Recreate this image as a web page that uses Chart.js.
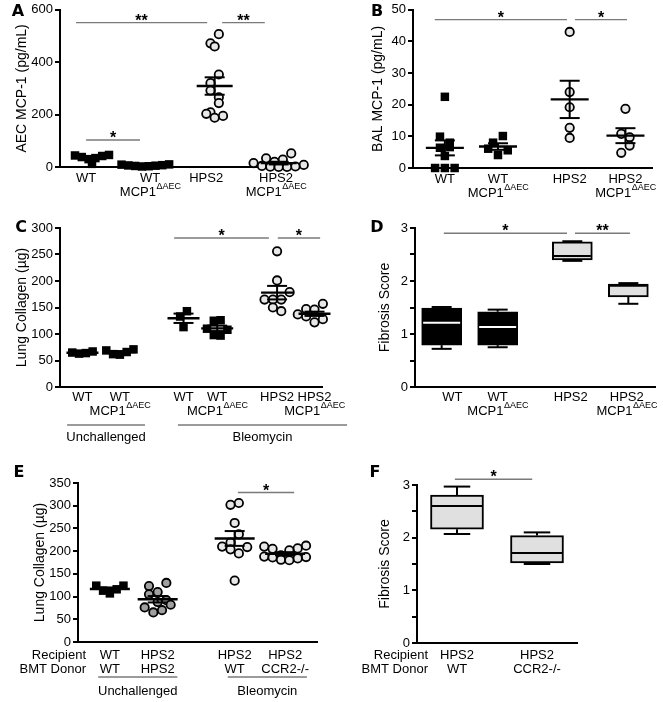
<!DOCTYPE html>
<html><head><meta charset="utf-8">
<script src="https://cdn.jsdelivr.net/npm/chart.js@4.4.1/dist/chart.umd.min.js"></script>
<style>
html,body{margin:0;padding:0;background:#fff;}
#wrap{position:relative;width:663px;height:702px;overflow:hidden;background:#fff;}
canvas{position:absolute;}
.lt{position:absolute;font:bold 16px 'DejaVu Sans',sans-serif;color:#000;transform:translate(-50%,-50%);line-height:1;}
</style></head><body>
<div id="wrap">
<canvas id="cA" width="330" height="200" style="left:0;top:0"></canvas>
<canvas id="cB" width="333" height="200" style="left:330px;top:0"></canvas>
<canvas id="cC" width="352" height="252" style="left:0;top:200px"></canvas>
<canvas id="cD" width="333" height="230" style="left:330px;top:200px"></canvas>
<canvas id="cE" width="340" height="247" style="left:0;top:455px"></canvas>
<canvas id="cF" width="323" height="247" style="left:340px;top:455px"></canvas>
<div class="lt" style="left:18px;top:11px">A</div>
<div class="lt" style="left:377px;top:11px">B</div>
<div class="lt" style="left:21px;top:227px">C</div>
<div class="lt" style="left:377px;top:227px">D</div>
<div class="lt" style="left:19px;top:472px">E</div>
<div class="lt" style="left:375px;top:472px">F</div>
</div>
<script>
const FONT = "'Liberation Sans', Arial, Helvetica, sans-serif";

// ================= DATA =================
// Panel A : AEC MCP-1 (pg/mL)
const aCategories = ['WT', 'WT|MCP1^ΔAEC', 'HPS2', 'HPS2|MCP1^ΔAEC'];
const aWT = [46, 44, 42, 38, 34, 30, 12];
const aWTko = [10, 9, 7, 6, 5, 4, 3, 2];
const aHPS2 = [507, 472, 460, 353, 320, 292, 266, 244, 209, 203, 195, 188];
const aHPS2ko = [52, 33, 28, 20, 15, 8, 4, 2, 1, 0, 0];
const aTicks = [0, 200, 400, 600];

// Panel B : BAL MCP-1 (pg/mL)
const bCategories = ['WT', 'WT|MCP1^ΔAEC', 'HPS2', 'HPS2|MCP1^ΔAEC'];
const bWT = [22.5, 9.9, 8, 6.6, 6.4, 3.8, 0, 0, 0];
const bWTko = [10.1, 8, 6.1, 5.6, 4.1];
const bHPS2 = [43, 24, 19.2, 12.7, 9.5];
const bHPS2ko = [18.7, 10.8, 9.7, 7.1, 4.8];
const bTicks = [0, 10, 20, 30, 40, 50];

// Panel C : Lung Collagen (µg)
const cCategories = ['WT', 'WT|MCP1^ΔAEC', 'WT', 'WT|MCP1^ΔAEC', 'HPS2', 'HPS2|MCP1^ΔAEC'];
const cWTu = [67, 65, 64, 63];
const cWTkou = [71, 69, 66, 62, 61];
const cWTb = [143, 133, 113];
const cWTkob = [126, 125, 110, 108, 98, 97];
const cHPS2b = [256, 201, 179, 165, 165, 165, 150, 143];
const cHPS2kob = [157, 147, 146, 137, 135, 133, 128, 122];
const cTicks = [0, 50, 100, 150, 200, 250, 300];
const cConditions = ['Unchallenged', 'Bleomycin'];

// Panel D : Fibrosis Score  [min, q1, median, q3, max]
const dCategories = ['WT', 'WT|MCP1^ΔAEC', 'HPS2', 'HPS2|MCP1^ΔAEC'];
const dWT = [0.72, 0.79, 1.21, 1.49, 1.51];
const dWTko = [0.75, 0.79, 1.13, 1.42, 1.46];
const dHPS2 = [2.38, 2.40, 2.47, 2.74, 2.75];
const dHPS2ko = [1.57, 1.70, 1.91, 1.94, 1.96];
const dTicks = [0, 0.5, 1, 1.5, 2, 2.5, 3];

// Panel E : Lung Collagen (µg), BMT
const eRecipient = ['WT', 'HPS2', 'HPS2', 'HPS2'];
const eDonor = ['WT', 'HPS2', 'WT', 'CCR2-/-'];
const eWTWT = [124, 124, 116, 113, 107];
const eHPS2HPS2 = [130, 123, 110, 105, 92, 88, 82, 76, 70, 65];
const eHPS2WT = [306, 302, 262, 237, 219, 210, 209, 204, 195, 135];
const eHPS2CCR2 = [212, 210, 206, 205, 202, 191, 188, 187, 186, 184, 181, 180];
const eTicks = [0, 50, 100, 150, 200, 250, 300, 350];
const eConditions = ['Unchallenged', 'Bleomycin'];

// Panel F : Fibrosis Score  [min, q1, median, q3, max]
const fRecipient = ['HPS2', 'HPS2'];
const fDonor = ['WT', 'CCR2-/-'];
const fWT = [2.07, 2.16, 2.60, 2.81, 2.97];
const fCCR2 = [1.50, 1.52, 1.71, 2.04, 2.10];
const fTicks = [0, 0.5, 1, 1.5, 2, 2.5, 3];

// ================= STYLES =================
const SQ = {pointStyle: 'rect', pointRadius: 6, backgroundColor: '#000', borderColor: '#000', borderWidth: 0, d: 8.5, sp: 0.8};
const SQW = {pointStyle: 'rect', pointRadius: 6, backgroundColor: '#000', borderColor: '#000', borderWidth: 0, d: 8.5, sp: 1.15};
const OP = {pointStyle: 'circle', pointRadius: 4.2, backgroundColor: '#e8e8e8', borderColor: '#000', borderWidth: 1.8, d: 10.2, sp: 0.82};
const GR = {pointStyle: 'circle', pointRadius: 4.2, backgroundColor: '#a0a0a0', borderColor: '#000', borderWidth: 1.8, d: 10.2, sp: 0.85};

function drawLabel(ctx, text, x, y) {
  const parts = text.split('^');
  const base = parts[0], sup = parts[1];
  ctx.font = '13px ' + FONT;
  const wb = ctx.measureText(base).width;
  let ws = 0;
  if (sup) { ctx.font = '9px ' + FONT; ws = ctx.measureText(sup).width; }
  const x0 = x - (wb + ws) / 2;
  ctx.textAlign = 'left'; ctx.textBaseline = 'middle'; ctx.fillStyle = '#000';
  ctx.font = '13px ' + FONT; ctx.fillText(base, x0, y);
  if (sup) { ctx.font = '9px ' + FONT; ctx.fillText(sup, x0 + wb + 0.5, y - 5); }
}
function seg(ctx, x1, y1, x2, y2) { ctx.beginPath(); ctx.moveTo(x1, y1); ctx.lineTo(x2, y2); ctx.stroke(); }

function makeDecor(p) {
  return {
    id: 'decor_' + p.id,
    afterDraw(chart) {
      const ctx = chart.ctx, xs = chart.scales.x, ys = chart.scales.y, ca = chart.chartArea;
      ctx.save();
      ctx.lineCap = 'butt';
      // mean ± SEM
      if (p.series && p.meanW) {
        p.series.forEach((s, k) => {
          const n = s.v.length;
          const m = s.v.reduce((a, b) => a + b, 0) / n;
          const sd = Math.sqrt(s.v.reduce((a, b) => a + (b - m) * (b - m), 0) / (n - 1));
          const se = sd / Math.sqrt(n);
          const cx = xs.getPixelForValue(p.xs[k]);
          const ym = ys.getPixelForValue(m), yh = ys.getPixelForValue(m + se), yl = ys.getPixelForValue(m - se);
          ctx.strokeStyle = '#000';
          ctx.lineWidth = 2.4; seg(ctx, cx - p.meanW / 2, ym, cx + p.meanW / 2, ym);
          ctx.lineWidth = 2; seg(ctx, cx, yh, cx, yl);
          seg(ctx, cx - p.semW / 2, yh, cx + p.semW / 2, yh);
          seg(ctx, cx - p.semW / 2, yl, cx + p.semW / 2, yl);
        });
      }
      // box whiskers and medians
      if (p.boxes) {
        p.boxes.forEach((b, k) => {
          const cx = xs.getPixelForValue(p.xs[k]);
          const w = p.boxW;
          const y0 = ys.getPixelForValue(b[0]), y1 = ys.getPixelForValue(b[1]), y2 = ys.getPixelForValue(b[2]),
                y3 = ys.getPixelForValue(b[3]), y4 = ys.getPixelForValue(b[4]);
          ctx.strokeStyle = '#000'; ctx.lineWidth = 2;
          seg(ctx, cx, y3, cx, y4); seg(ctx, cx - w / 4, y4, cx + w / 4, y4);
          seg(ctx, cx, y1, cx, y0); seg(ctx, cx - w / 4, y0, cx + w / 4, y0);
          ctx.strokeStyle = p.medianColors[k];
          seg(ctx, cx - w / 2 + 1.5, y2, cx + w / 2 - 1.5, y2);
        });
      }
      // significance bars
      (p.sigs || []).forEach(s => {
        const x1 = xs.getPixelForValue(s.x1), x2 = xs.getPixelForValue(s.x2), y = ys.getPixelForValue(s.y);
        ctx.strokeStyle = '#7a7a7a'; ctx.lineWidth = 1.4; seg(ctx, x1, y, x2, y);
        ctx.fillStyle = '#000'; ctx.font = 'bold 16px ' + FONT; ctx.textAlign = 'center'; ctx.textBaseline = 'alphabetic';
        ctx.fillText(s.t, (x1 + x2) / 2, y + 3);
      });
      // category labels
      const lx = p.labelXs || p.xs;
      p.labels.forEach((lab, k) => {
        const cx = xs.getPixelForValue(lx[k]);
        lab.split('|').forEach((line, r) => drawLabel(ctx, line, cx, ca.bottom + p.rows[r]));
      });
      // row headers
      if (p.rowHead) {
        ctx.font = '13px ' + FONT; ctx.textAlign = 'right'; ctx.textBaseline = 'middle'; ctx.fillStyle = '#000';
        p.rowHead.t.forEach((t, r) => ctx.fillText(t, p.rowHead.x, ca.bottom + p.rows[r]));
      }
      // condition brackets
      (p.brackets || []).forEach(b => {
        const x1 = xs.getPixelForValue(b.x1), x2 = xs.getPixelForValue(b.x2);
        ctx.strokeStyle = '#7a7a7a'; ctx.lineWidth = 1.4; seg(ctx, x1, ca.bottom + p.brkLine, x2, ca.bottom + p.brkLine);
        ctx.fillStyle = '#000'; ctx.font = '13px ' + FONT; ctx.textAlign = 'center'; ctx.textBaseline = 'middle';
        ctx.fillText(b.t, (x1 + x2) / 2, ca.bottom + p.brkText);
      });
      ctx.restore();
    }
  };
}

// Column-scatter layout: points are binned into rows (by pixel height); in each row the
// lowest value sits in the middle and higher ones alternate outwards (U-shaped rows).
function swarm(chart, p) {
  const xs = chart.scales.x, ys = chart.scales.y;
  const ppu = xs.getPixelForValue(1) - xs.getPixelForValue(0);
  p.series.forEach((s, k) => {
    const binH = s.st.d * 0.95, sp = s.st.d * s.st.sp;
    const idx = s.v.map((_, i) => i).sort((a, b) => s.v[b] - s.v[a]);
    const bins = []; let cur = null;
    idx.forEach(i => {
      const py = ys.getPixelForValue(s.v[i]);
      if (!cur || py - cur.y0 > binH) { cur = {y0: py, m: []}; bins.push(cur); }
      cur.m.push(i);
    });
    const off = [];
    let flip = 1;
    bins.forEach(b => {
      const n = b.m.length;
      const slots = [];
      for (let j = 0; j < n; j++) slots.push((j - (n - 1) / 2) * sp);
      const order = slots.map((_, j) => j).sort((a, c) => Math.abs(slots[a]) - Math.abs(slots[c]) || (slots[a] - slots[c]) * flip);
      const members = b.m.slice().sort((a, c) => s.v[a] - s.v[c]); // lowest first -> centre
      members.forEach((i, j) => { off[i] = slots[order[j]]; });
      if (n === 1) off[b.m[0]] = 0;
      flip = -flip;
    });
    chart.data.datasets[k].data = s.v.map((v, i) => ({x: p.xs[k] + off[i] / ppu, y: v}));
  });
  chart.update('none');
}

function makePanel(p) {
  const datasets = [];
  if (p.series) {
    p.series.forEach((s, k) => datasets.push({
      type: 'scatter', data: s.v.map(v => ({x: p.xs[k], y: v})),
      pointStyle: s.st.pointStyle, pointRadius: s.st.pointRadius, pointHoverRadius: s.st.pointRadius,
      backgroundColor: s.st.backgroundColor, borderColor: s.st.borderColor, borderWidth: s.st.borderWidth,
      showLine: false, clip: false
    }));
  }
  if (p.boxes) {
    datasets.push({
      type: 'bar', data: p.boxes.map((b, k) => ({x: p.xs[k], y: [b[1], b[3]]})),
      backgroundColor: p.boxFill, borderColor: '#000', borderWidth: 2, borderSkipped: false,
      barThickness: p.boxW, grouped: false
    });
  }
  const chart = new Chart(document.getElementById(p.id), {
    type: p.boxes ? 'bar' : 'scatter',
    data: {datasets},
    options: {
      responsive: false, animation: false, events: [],
      layout: {padding: {top: p.padTop, right: p.padRight, left: 0, bottom: 0}},
      plugins: {legend: {display: false}, tooltip: {enabled: false}},
      scales: {
        x: {
          type: 'linear', min: p.xMin, max: p.xMax, offset: false,
          ticks: {display: false}, grid: {display: false},
          border: {display: true, color: '#000', width: 2},
          afterFit: s => { s.height = p.xH; }
        },
        y: {
          type: 'linear', min: p.yMin, max: p.yMax,
          afterBuildTicks: s => { s.ticks = p.ticks.map(v => ({value: v})); },
          ticks: {autoSkip: false, color: '#000', font: {family: FONT, size: 13}, padding: 2,
                  callback: v => (p.minor && !Number.isInteger(v)) ? '' : String(v)},
          grid: {drawOnChartArea: false, drawTicks: true, tickLength: 5, color: '#000', lineWidth: 2},
          border: {display: true, color: '#000', width: 2},
          title: {display: true, text: p.yTitle, color: '#000', font: {family: FONT, size: 14}, padding: {top: p.titlePad, bottom: 0}},
          afterFit: s => { s.width = p.yW; }
        }
      }
    },
    plugins: [makeDecor(p)]
  });
  if (p.series) swarm(chart, p);
  return chart;
}

// ================= PANELS =================
makePanel({
  id: 'cA', xMin: 0.4, xMax: 4.9, xs: [1, 2, 3.3, 4.5], labelXs: [0.89, 2.09, 3.14, 4.45],
  yMin: 0, yMax: 600, ticks: aTicks,
  yTitle: 'AEC MCP-1 (pg/mL)', titlePad: 13.6, yW: 60, xH: 33, padTop: 9, padRight: 30,
  labels: aCategories, rows: [11, 25],
  series: [{v: aWT, st: SQ}, {v: aWTko, st: SQ}, {v: aHPS2, st: OP}, {v: aHPS2ko, st: OP}],
  meanW: 36, semW: 20,
  sigs: [{x1: 0.70, x2: 3.16, y: 551, t: '**'}, {x1: 3.44, x2: 4.24, y: 551, t: '**'}, {x1: 0.89, x2: 1.9, y: 103, t: '*'}]
});
makePanel({
  id: 'cB', xMin: 0.4, xMax: 4.9, xs: [1, 2, 3.35, 4.4], yMin: 0, yMax: 50, ticks: bTicks,
  yTitle: 'BAL MCP-1 (pg/mL)', titlePad: 39.6, yW: 83, xH: 32, padTop: 9, padRight: 11,
  labels: bCategories, rows: [11, 25],
  series: [{v: bWT, st: SQW}, {v: bWTko, st: SQW}, {v: bHPS2, st: OP}, {v: bHPS2ko, st: OP}],
  meanW: 38, semW: 20,
  sigs: [{x1: 0.81, x2: 3.30, y: 46.9, t: '*'}, {x1: 3.45, x2: 4.43, y: 46.9, t: '*'}]
});
makePanel({
  id: 'cC', xMin: 0.4, xMax: 7.4, xs: [1, 2, 3.7, 4.6, 6.2, 7.2], yMin: 0, yMax: 300, ticks: cTicks,
  yTitle: 'Lung Collagen (µg)', titlePad: 13.6, yW: 60, xH: 65, padTop: 28, padRight: 30,
  labels: cCategories, rows: [10, 24],
  series: [{v: cWTu, st: SQ}, {v: cWTkou, st: SQ}, {v: cWTb, st: SQ}, {v: cWTkob, st: SQ}, {v: cHPS2b, st: OP}, {v: cHPS2kob, st: OP}],
  meanW: 32, semW: 20,
  sigs: [{x1: 3.45, x2: 5.98, y: 281, t: '*'}, {x1: 6.22, x2: 7.35, y: 281, t: '*'}],
  brackets: [{x1: 0.59, x2: 2.67, t: cConditions[0]}, {x1: 3.55, x2: 8.07, t: cConditions[1]}],
  brkLine: 38, brkText: 50
});
makePanel({
  id: 'cD', xMin: 0.5, xMax: 5.0, xs: [1, 2.05, 3.45, 4.5], labelXs: [1.2, 2.05, 3.42, 4.47],
  yMin: 0, yMax: 3, ticks: dTicks, minor: true,
  yTitle: 'Fibrosis Score', titlePad: 46.6, yW: 85, xH: 43, padTop: 28, padRight: 8,
  labels: dCategories, rows: [10, 24],
  boxes: [dWT, dWTko, dHPS2, dHPS2ko], boxW: 40,
  boxFill: ['#000', '#000', '#e0e0e0', '#e0e0e0'], medianColors: ['#fff', '#fff', '#000', '#000'],
  sigs: [{x1: 1.04, x2: 3.35, y: 2.9, t: '*'}, {x1: 3.5, x2: 4.53, y: 2.9, t: '**'}]
});
makePanel({
  id: 'cE', xMin: 0.4, xMax: 4.9, xs: [1, 1.9, 3.35, 4.3], yMin: 0, yMax: 350, ticks: eTicks,
  yTitle: 'Lung Collagen (µg)', titlePad: 31.6, yW: 78, xH: 60, padTop: 28, padRight: 23,
  labels: eRecipient.map((r, i) => r + '|' + eDonor[i]), rows: [13, 27],
  rowHead: {x: 86, t: ['Recipient', 'BMT Donor']},
  series: [{v: eWTWT, st: SQ}, {v: eHPS2HPS2, st: GR}, {v: eHPS2WT, st: OP}, {v: eHPS2CCR2, st: OP}],
  meanW: 40, semW: 20,
  sigs: [{x1: 3.41, x2: 4.47, y: 329, t: '*'}],
  brackets: [{x1: 0.78, x2: 2.27, t: eConditions[0]}, {x1: 3.22, x2: 4.71, t: eConditions[1]}],
  brkLine: 35, brkText: 49
});
makePanel({
  id: 'cF', xMin: 0.25, xMax: 3.25, xs: [1, 2.5], yMin: 0, yMax: 3, ticks: fTicks, minor: true,
  yTitle: 'Fibrosis Score', titlePad: 36.6, yW: 77, xH: 59, padTop: 30, padRight: 86,
  labels: fRecipient.map((r, i) => r + '|' + fDonor[i]), rows: [12, 26],
  rowHead: {x: 88, t: ['Recipient', 'BMT Donor']},
  boxes: [fWT, fCCR2], boxW: 53,
  boxFill: ['#e0e0e0', '#e0e0e0'], medianColors: ['#000', '#000'],
  sigs: [{x1: 0.96, x2: 2.41, y: 3.11, t: '*'}]
});
</script>
</body></html>
